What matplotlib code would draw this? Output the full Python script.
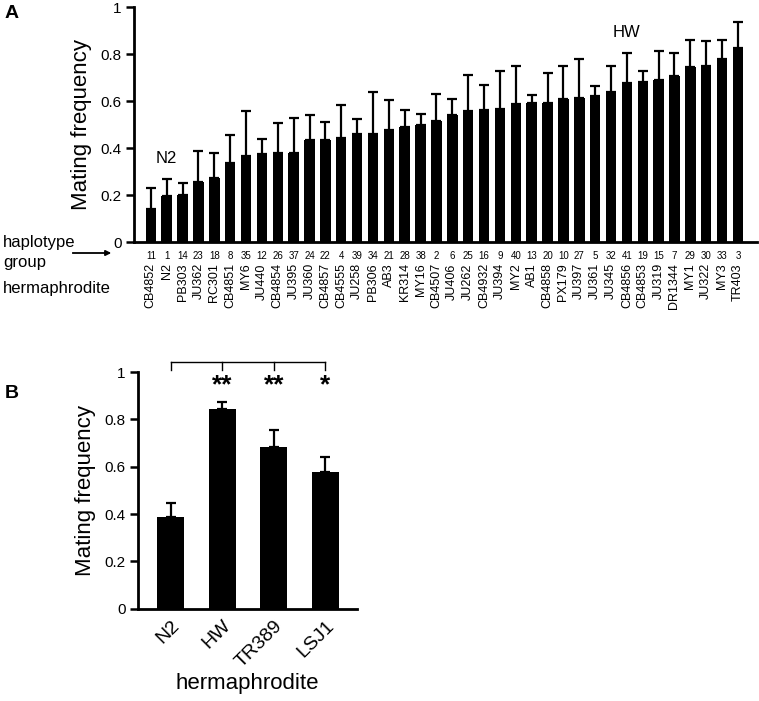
import matplotlib.pyplot as plt
import numpy as np

plt.rcParams['font.family'] = ['Liberation Sans', 'DejaVu Sans']

# Panel A data
strains_a = ['CB4852', 'N2', 'PB303', 'JU362', 'RC301', 'CB4851', 'MY6', 'JU440',
             'CB4854', 'JU395', 'JU360', 'CB4857', 'CB4555', 'JU258', 'PB306', 'AB3',
             'KR314', 'MY16', 'CB4507', 'JU406', 'JU262', 'CB4932', 'JU394', 'MY2',
             'AB1', 'CB4858', 'PX179', 'JU397', 'JU361', 'JU345', 'CB4856', 'CB4853',
             'JU319', 'DR1344', 'MY1', 'JU322', 'MY3', 'TR403']
haplotypes_a = [11, 1, 14, 23, 18, 8, 35, 12, 26, 37, 24, 22, 4, 39, 34, 21, 28, 38, 2,
                6, 25, 16, 9, 40, 13, 20, 10, 27, 5, 32, 41, 19, 15, 7, 29, 30, 33, 3]
freq_a = [0.139, 0.196, 0.202, 0.257, 0.272, 0.335, 0.368, 0.373, 0.380, 0.377,
          0.433, 0.433, 0.441, 0.460, 0.461, 0.478, 0.491, 0.498, 0.514, 0.542,
          0.556, 0.562, 0.568, 0.587, 0.590, 0.592, 0.607, 0.614, 0.621, 0.640,
          0.677, 0.680, 0.689, 0.706, 0.745, 0.748, 0.777, 0.827]
sem_a = [0.092, 0.074, 0.048, 0.129, 0.108, 0.122, 0.191, 0.065, 0.126, 0.149,
         0.109, 0.076, 0.141, 0.063, 0.176, 0.125, 0.069, 0.047, 0.115, 0.065,
         0.156, 0.105, 0.158, 0.161, 0.036, 0.126, 0.144, 0.165, 0.043, 0.111,
         0.126, 0.046, 0.122, 0.097, 0.115, 0.107, 0.083, 0.108]

# Panel B data
strains_b = ['N2', 'HW', 'TR389', 'LSJ1']
freq_b = [0.389, 0.845, 0.683, 0.576]
sem_b = [0.058, 0.030, 0.071, 0.066]
stars_b = ['', '**', '**', '*']

yticks = [0, 0.2, 0.4, 0.6, 0.8, 1]
ytick_labels = ['0', '0.2', '0.4', '0.6', '0.8', '1']

fig = plt.figure(figsize=(7.59, 7.01), dpi=100)


def style_axes(ax):
    for s in ['top', 'right']:
        ax.spines[s].set_visible(False)
    ax.spines['left'].set_linewidth(2)
    ax.spines['bottom'].set_linewidth(2)
    ax.tick_params(axis='y', length=6, width=1.8, labelsize=11, pad=3)
    ax.tick_params(axis='x', length=0)
    ax.set_ylim(0, 1)
    ax.set_yticks(yticks)
    ax.set_yticklabels(ytick_labels)


# ---- Panel A ----
axA = fig.add_axes([134 / 759, 1 - 242 / 701, (757 - 134) / 759, (242 - 7) / 701])
xa = np.arange(len(strains_a))
axA.bar(xa, freq_a, width=0.66, color='black', zorder=3)
axA.errorbar(xa, freq_a, yerr=[np.zeros(len(xa)), sem_a], fmt='none',
             ecolor='black', elinewidth=1.6, capsize=3.3, capthick=1.6, zorder=2)
axA.set_xlim(-1.06, 38.2)
style_axes(axA)
axA.set_xticks([])
axA.set_ylabel('Mating frequency', fontsize=16, labelpad=6)

# haplotype numbers and strain names under each bar
for i, (h, s) in enumerate(zip(haplotypes_a, strains_a)):
    axA.text(i, -0.06, str(h), fontsize=7, ha='center', va='center', clip_on=False)
    axA.text(i, -0.09, s, fontsize=9, ha='center', va='top', rotation=90,
             clip_on=False)

axA.text(1, 0.356, 'N2', fontsize=12, ha='center', va='center')
axA.text(30, 0.892, 'HW', fontsize=12, ha='center', va='center')

fig.text(3 / 759, 1 - 243 / 701, 'haplotype', fontsize=12, ha='left', va='center')
fig.text(3 / 759, 1 - 262 / 701, 'group', fontsize=12, ha='left', va='center')
fig.text(3 / 759, 1 - 288 / 701, 'hermaphrodite', fontsize=12, ha='left', va='center')
fig.add_artist(plt.Line2D([73 / 759, 108 / 759], [1 - 253 / 701, 1 - 253 / 701],
                          color='black', lw=1.3))
axA.annotate('', xy=(114 / 759, 1 - 253 / 701), xytext=(104 / 759, 1 - 253 / 701),
             xycoords='figure fraction', textcoords='figure fraction',
             arrowprops=dict(arrowstyle='-|>', color='black', lw=1.2,
                             mutation_scale=8))

fig.text(5 / 759, 1 - 13 / 701, 'A', fontsize=14, fontweight='bold', ha='left', va='center')

# ---- Panel B ----
axB = fig.add_axes([138 / 759, 1 - 608.7 / 701, (357 - 138) / 759, (608.7 - 372) / 701])
xb = np.arange(len(strains_b))
axB.bar(xb, freq_b, width=0.52, color='black', zorder=3)
axB.errorbar(xb, freq_b, yerr=[np.zeros(len(xb)), sem_b], fmt='none',
             ecolor='black', elinewidth=1.6, capsize=3.3, capthick=1.6, zorder=2)
axB.set_xlim(-0.63, 3.61)
style_axes(axB)
axB.set_xticks(xb)
axB.set_xticklabels(strains_b, rotation=45, ha='right', rotation_mode='anchor',
                    fontsize=14)
axB.tick_params(axis='x', pad=6)
axB.set_ylabel('Mating frequency', fontsize=16, labelpad=6)
axB.set_xlabel('hermaphrodite', fontsize=16, labelpad=2)

# significance bracket
bracket_y = 1.043
axB.plot([xb[0], xb[-1]], [bracket_y, bracket_y], color='black', lw=1, clip_on=False)
for x in xb:
    axB.plot([x, x], [bracket_y, 1.009], color='black', lw=1, clip_on=False)
for x, s in zip(xb, stars_b):
    if s:
        axB.text(x, 0.945, s, fontsize=19, fontweight='bold', ha='center',
                 va='center', clip_on=False)

fig.text(5 / 759, 1 - 394 / 701, 'B', fontsize=14, fontweight='bold', ha='left', va='center')

plt.savefig('out.png', dpi=100)
plt.close()
